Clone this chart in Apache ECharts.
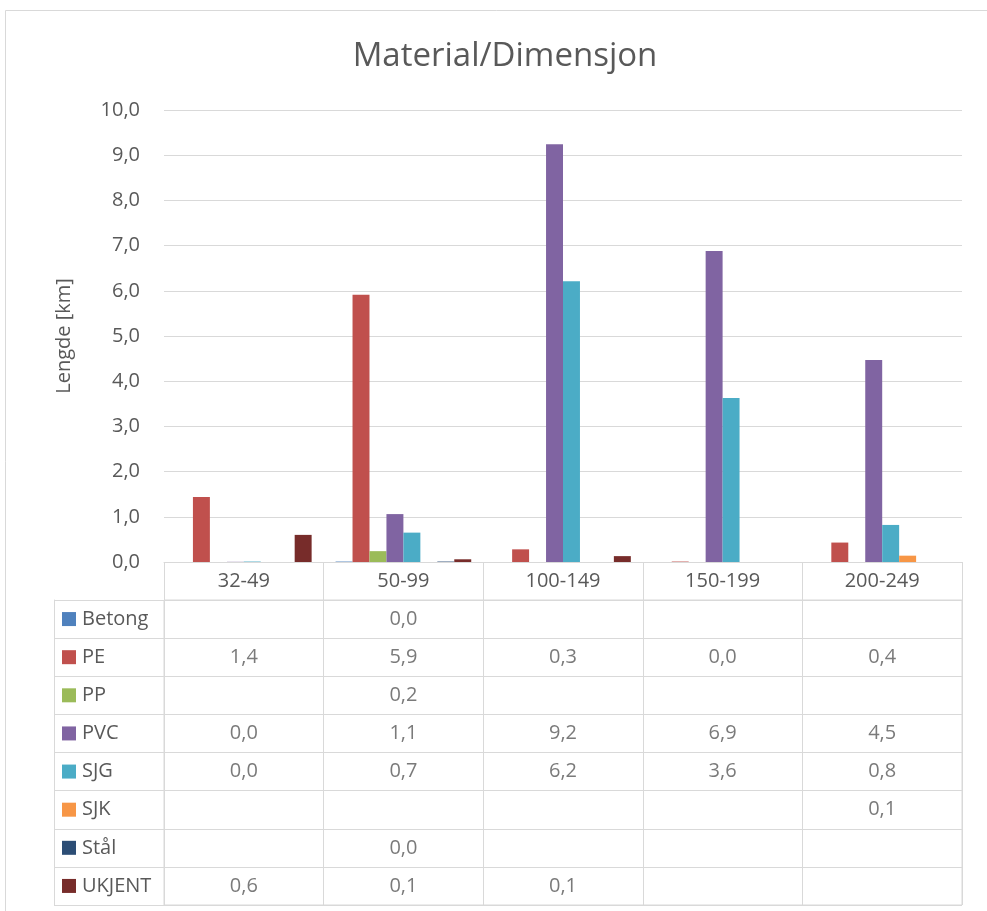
<!DOCTYPE html>
<html>
<head>
<meta charset="utf-8">
<script src="https://cdn.jsdelivr.net/npm/echarts@6.0.0/dist/echarts.min.js"></script>
<style>
  html, body { margin: 0; padding: 0; background: #ffffff; }
  #chart { width: 987px; height: 911px; }
</style>
</head>
<body>
<div id="chart"></div>
<script>
// Pipe length (km) per material and dimension class
const categories = ['32-49', '50-99', '100-149', '150-199', '200-249'];
const materials = ['Betong', 'PE', 'PP', 'PVC', 'SJG', 'SJK', 'Stål', 'UKJENT'];
const colors = ['#4F81BD', '#C0504D', '#9BBB59', '#8064A2', '#4BACC6', '#F79646', '#2C4D75', '#772C2A'];

const betong = [null, 0.01, null, null, null];
const pe     = [1.44, 5.91, 0.28, 0.01, 0.43];
const pp     = [null, 0.24, null, null, null];
const pvc    = [0.004, 1.06, 9.24, 6.88, 4.47];
const sjg    = [0.01, 0.65, 6.21, 3.63, 0.82];
const sjk    = [null, null, null, null, 0.14];
const stal   = [null, 0.01, null, null, null];
const ukjent = [0.60, 0.06, 0.13, null, null];

const values = [betong, pe, pp, pvc, sjg, sjk, stal, ukjent];

const FONT = '"Open Sans", Lato, sans-serif';
const TEXT = '#595959';
const LINE = '#d9d9d9';
const FS = 20;

const fmt = v => v.toFixed(1).replace('.', ',');

const rich = { t: { fontSize: FS, color: TEXT, fontFamily: FONT, padding: [0, 0, 0, 6] } };
colors.forEach((c, i) => { rich['s' + i] = { width: 14, height: 14, backgroundColor: c }; });

// Bars in the upper plot
const barSeries = materials.map((m, r) => ({
  name: m,
  type: 'bar',
  xAxisIndex: 0,
  yAxisIndex: 0,
  data: values[r],
  itemStyle: { color: colors[r] },
  barGap: '0%',
  barCategoryGap: '15%',
  silent: true
}));

// Value cells of the data table below the plot
const cellSeries = materials.map((m, r) => ({
  name: m + ' tabell',
  type: 'scatter',
  xAxisIndex: 1,
  yAxisIndex: 1,
  symbolSize: 1,
  itemStyle: { color: 'transparent' },
  data: values[r].map((v, c) => (v == null ? null : [c, r, v])).filter(d => d),
  label: {
    show: true,
    position: 'inside',
    formatter: p => fmt(p.value[2]),
    color: TEXT,
    fontSize: FS,
    fontFamily: FONT
  },
  silent: true
}));

const chart = echarts.init(document.getElementById('chart'), null, { renderer: 'canvas' });
chart.setOption({
  animation: false,
  backgroundColor: '#ffffff',
  textStyle: { fontFamily: FONT },
  title: {
    text: 'Material/Dimensjon',
    left: 500,
    top: 35,
    textAlign: 'center',
    textStyle: { fontSize: 33, fontWeight: 'normal', color: TEXT, fontFamily: FONT }
  },
  graphic: [{
    type: 'rect',
    shape: { x: 5.5, y: 10.5, width: 1200, height: 1200 },
    style: { fill: 'none', stroke: LINE, lineWidth: 1 },
    silent: true,
    z: -1
  }],
  grid: [
    { left: 164, right: 25, top: 110, bottom: 349 },
    { left: 164, right: 25, top: 600, bottom: 6, show: true, borderColor: LINE, borderWidth: 1, backgroundColor: 'transparent' }
  ],
  xAxis: [
    {
      type: 'category',
      gridIndex: 0,
      data: categories,
      axisLine: { show: true, lineStyle: { color: LINE, width: 1 } },
      axisTick: { show: true, length: 38, lineStyle: { color: LINE, width: 1 } },
      axisLabel: { color: TEXT, fontSize: FS, fontFamily: FONT, margin: 9 },
      splitLine: { show: false }
    },
    {
      type: 'category',
      gridIndex: 1,
      data: categories,
      axisLine: { show: false },
      axisTick: { show: false },
      axisLabel: { show: false },
      splitLine: { show: true, lineStyle: { color: LINE, width: 1 } }
    }
  ],
  yAxis: [
    {
      type: 'value',
      gridIndex: 0,
      min: 0,
      max: 10,
      interval: 1,
      name: 'Lengde [km]',
      nameLocation: 'middle',
      nameRotate: 90,
      nameGap: 90,
      nameTextStyle: { color: TEXT, fontSize: FS, fontFamily: FONT },
      axisLine: { show: false },
      axisTick: { show: false },
      axisLabel: { color: TEXT, fontSize: FS, fontFamily: FONT, margin: 24, formatter: v => fmt(v) },
      splitLine: { show: true, lineStyle: { color: LINE, width: 1 } }
    },
    {
      type: 'category',
      gridIndex: 1,
      data: materials,
      inverse: true,
      axisLine: { show: true, lineStyle: { color: LINE, width: 1 } },
      axisTick: { show: true, length: 110, lineStyle: { color: LINE, width: 1 } },
      axisLabel: {
        align: 'left',
        margin: 102,
        formatter: (v, i) => '{s' + i + '|}{t|' + v + '}',
        rich: rich
      },
      splitLine: { show: true, lineStyle: { color: LINE, width: 1 } }
    },
    {
      type: 'category',
      gridIndex: 1,
      data: materials,
      inverse: true,
      position: 'left',
      offset: 110,
      axisLine: { show: true, lineStyle: { color: LINE, width: 1 } },
      axisTick: { show: false },
      axisLabel: { show: false },
      splitLine: { show: false }
    }
  ],
  series: barSeries.concat(cellSeries)
});
</script>
</body>
</html>
